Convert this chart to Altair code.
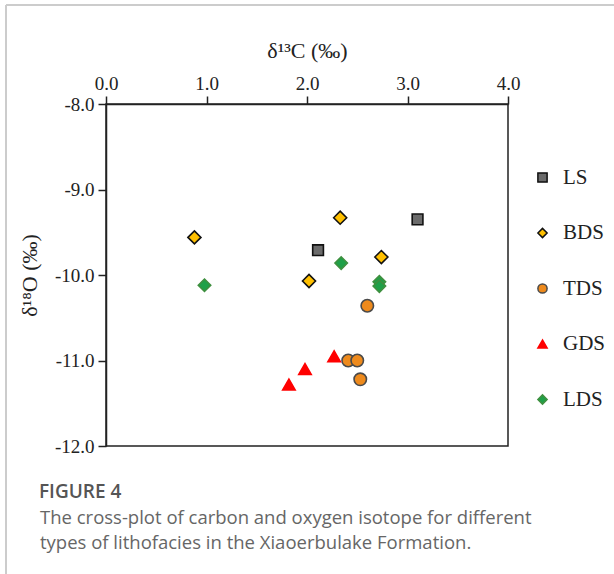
import altair as alt
import pandas as pd

# Carbon / oxygen isotope values per lithofacies type
ls_c = [2.11, 3.10]
ls_o = [-9.71, -9.35]
bds_c = [0.88, 2.33, 2.74, 2.02]
bds_o = [-9.56, -9.33, -9.79, -10.07]
tds_c = [2.60, 2.41, 2.50, 2.53]
tds_o = [-10.36, -11.00, -11.00, -11.22]
gds_c = [1.82, 1.98, 2.27]
gds_o = [-11.28, -11.10, -10.95]
lds_c = [0.98, 2.34, 2.72, 2.72]
lds_o = [-10.12, -9.86, -10.08, -10.13]

facies = ["LS", "BDS", "TDS", "GDS", "LDS"]
fills = ["#6b6b6b", "#FFC000", "#EE8A1C", "#FF0000", "#1FA048"]
strokes = ["#111111", "#111111", "#4a4a4a", "#FF0000", "#3f8f3f"]
shapes = ["square", "diamond", "circle", "triangle-up", "diamond"]

x_ticks = [0, 1, 2, 3, 4]
y_ticks = [-8, -9, -10, -11, -12]

caption_head = "FIGURE 4"
caption_lines = [
    "The cross-plot of carbon and oxygen isotope for different",
    "types of lithofacies in the Xiaoerbulake Formation.",
]

rows = []
for name, cs, os_ in [("LS", ls_c, ls_o), ("BDS", bds_c, bds_o), ("TDS", tds_c, tds_o),
                      ("GDS", gds_c, gds_o), ("LDS", lds_c, lds_o)]:
    for c, o in zip(cs, os_):
        rows.append({"facies": name, "d13C": c, "d18O": o})
df = pd.DataFrame(rows)

SERIF = "'Liberation Serif', 'Times New Roman', serif"
SANS = "'Open Sans', sans-serif"
W, H = 402, 342
LEFT, TOP = 106, 104

legend = alt.Legend(
    title=None, orient="none", legendX=426, legendY=63,
    labelFont=SERIF, labelFontSize=21, labelColor="#222222",
    symbolSize=85, symbolStrokeWidth=1.5, rowPadding=33.5, labelOffset=10,
)

axis_common = dict(
    grid=False, labelFont=SERIF, labelFontSize=19, labelColor="#222222",
    titleFont=SERIF, titleFontSize=22, titleFontWeight="normal", titleColor="#222222",
    tickSize=8, tickColor="#222222", domainColor="#222222",
    domainWidth=1.5, tickWidth=1.5, labelFlush=False,
)

# squares drawn a little smaller than the other symbols
marker_size = (
    alt.when(alt.datum.facies == "LS").then(alt.value(115))
    .when(alt.datum.facies == "BDS").then(alt.value(170))
    .otherwise(alt.value(155))
)

points = alt.Chart(df).mark_point(filled=True, opacity=1, strokeWidth=1.6).encode(
    x=alt.X("d13C:Q", scale=alt.Scale(domain=[0, 4], nice=False, zero=False),
            axis=alt.Axis(orient="top", values=x_ticks, format=".1f",
                          title="δ¹³C (‰)", titlePadding=12, labelPadding=3,
                          **axis_common)),
    y=alt.Y("d18O:Q", scale=alt.Scale(domain=[-12, -8], nice=False, zero=False),
            axis=alt.Axis(values=y_ticks,
                          labelExpr="(datum.value < 0 ? '-' : '') + format(abs(datum.value), '.1f')",
                          title="δ¹⁸O (‰)", titlePadding=13, labelPadding=4,
                          **axis_common)),
    fill=alt.Fill("facies:N", scale=alt.Scale(domain=facies, range=fills), legend=legend),
    stroke=alt.Stroke("facies:N", scale=alt.Scale(domain=facies, range=strokes), legend=legend),
    shape=alt.Shape("facies:N", scale=alt.Scale(domain=facies, range=shapes), legend=legend),
    size=marker_size,
)

one = alt.Data(values=[{}])

# light page frame along the top and left edges
frame_left = alt.Chart(one).mark_rule(color="#cccccc", strokeWidth=2).encode(
    x=alt.value(6 - LEFT), y=alt.value(5 - TOP), y2=alt.value(574 - TOP))
frame_top = alt.Chart(one).mark_rule(color="#cccccc", strokeWidth=2).encode(
    x=alt.value(6 - LEFT), x2=alt.value(614 - LEFT), y=alt.value(5 - TOP))

head = alt.Chart(one).mark_text(align="left", baseline="alphabetic", font=SANS,
                                fontSize=19, fontWeight=600, color="#555555").encode(
    x=alt.value(39 - LEFT), y=alt.value(498 - TOP), text=alt.value(caption_head))
line1 = alt.Chart(one).mark_text(align="left", baseline="alphabetic", font=SANS,
                                 fontSize=18.5, color="#666666").encode(
    x=alt.value(40 - LEFT), y=alt.value(524 - TOP), text=alt.value(caption_lines[0]))
line2 = alt.Chart(one).mark_text(align="left", baseline="alphabetic", font=SANS,
                                 fontSize=18.5, color="#666666").encode(
    x=alt.value(40 - LEFT), y=alt.value(549 - TOP), text=alt.value(caption_lines[1]))

chart = alt.layer(points, frame_left, frame_top, head, line1, line2).properties(
    width=W, height=H,
    autosize=alt.AutoSizeParams(type="none"),
    padding={"left": LEFT, "top": TOP, "right": 614 - LEFT - W, "bottom": 574 - TOP - H},
    background="white",
).configure_view(stroke="#222222", strokeWidth=1.5)

chart.save("out.html", embed_options={"renderer": "svg", "actions": False})
